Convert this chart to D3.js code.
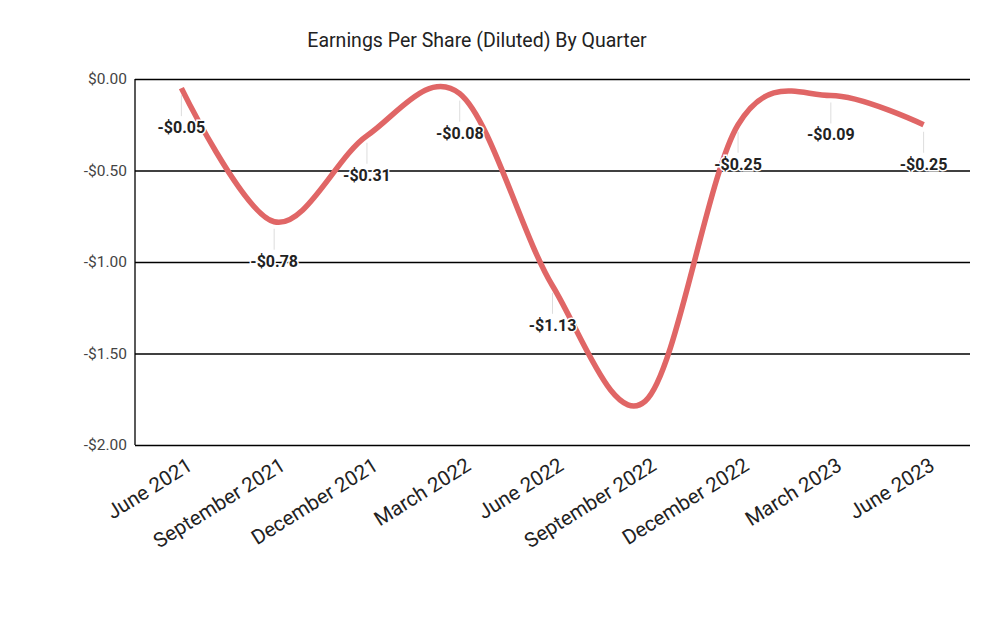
<!DOCTYPE html>
<html>
<head>
<meta charset="utf-8">
<script src="https://cdn.jsdelivr.net/npm/d3@7"></script>
<style>
  body { margin: 0; background: #fff; }
  text { font-family: Roboto, "Noto Sans", sans-serif; }
</style>
</head>
<body>
<div id="chart-area"></div>
<script>
// data
const quarters = ["June 2021", "September 2021", "December 2021", "March 2022", "June 2022",
  "September 2022", "December 2022", "March 2023", "June 2023"]
const eps = [-0.05, -0.78, -0.31, -0.08, -1.13, -1.76, -0.25, -0.09, -0.25]
const showLabel = [true, true, true, true, true, false, true, true, true]
const yTicks = [0, -0.5, -1, -1.5, -2]

const W = 1000, H = 618
const MARGIN = { LEFT: 135, RIGHT: 30, TOP: 79, BOTTOM: 173 }
const WIDTH = W - MARGIN.LEFT - MARGIN.RIGHT
const HEIGHT = H - MARGIN.TOP - MARGIN.BOTTOM

const svg = d3.select("#chart-area").append("svg")
  .attr("width", W)
  .attr("height", H)

// Title
svg.append("text")
  .attr("x", 477)
  .attr("y", 47)
  .attr("text-anchor", "middle")
  .attr("font-size", "19.5px")
  .attr("fill", "#222")
  .text("Earnings Per Share (Diluted) By Quarter")

const g = svg.append("g")
  .attr("transform", `translate(${MARGIN.LEFT}, ${MARGIN.TOP})`)

const x = d3.scalePoint()
  .domain(quarters)
  .range([0, WIDTH])
  .padding(0.5)

const y = d3.scaleLinear()
  .domain([-2, 0])
  .range([HEIGHT, 0])

const fmt = v => (v < 0 ? "-$" : "$") + Math.abs(v).toFixed(2)

// gridlines + y labels
const yAxisCall = d3.axisLeft(y)
  .tickValues(yTicks)
  .tickSize(-WIDTH)
  .tickPadding(8)
  .tickFormat(fmt)
const yAxis = g.append("g").call(yAxisCall)
yAxis.select(".domain").remove()
yAxis.selectAll("line").attr("stroke", "#000").attr("stroke-width", 1.3)
yAxis.selectAll("text")
  .attr("font-size", "15.5px")
  .attr("fill", "#444")
  .attr("font-family", "Roboto, sans-serif")

// left axis line
g.append("line")
  .attr("x1", 0).attr("x2", 0)
  .attr("y1", 0).attr("y2", HEIGHT)
  .attr("stroke", "#000")
  .attr("stroke-width", 1.3)

// x labels
const xAxisCall = d3.axisBottom(x).tickSize(0).tickPadding(0)
const xAxis = g.append("g")
  .attr("transform", `translate(0, ${HEIGHT})`)
  .call(xAxisCall)
xAxis.select(".domain").remove()
xAxis.selectAll("text")
  .attr("text-anchor", "end")
  .attr("font-size", "20.5px")
  .attr("fill", "#222")
  .attr("font-family", "Roboto, sans-serif")
  .attr("dy", 0)
  .attr("y", 0)
  .attr("transform", "translate(12, 24) rotate(-32)")

const data = quarters.map((q, i) => ({ q, v: eps[i], show: showLabel[i] }))

// line
const line = d3.line()
  .x(d => x(d.q))
  .y(d => y(d.v))
  .curve(d3.curveCardinal.tension(0))

g.append("path")
  .datum(data)
  .attr("fill", "none")
  .attr("stroke", "#e06666")
  .attr("stroke-width", 5.5)
  .attr("stroke-linecap", "butt")
  .attr("d", line)

// data labels with leader lines
const lab = g.selectAll(".lab")
  .data(data.filter(d => d.show))
  .enter().append("g")
  .attr("class", "lab")
  .attr("transform", d => `translate(${x(d.q)}, ${y(d.v)})`)

lab.append("line")
  .attr("y1", 7).attr("y2", 28)
  .attr("stroke", "#ddd")
  .attr("stroke-width", 1)

lab.append("text")
  .attr("y", 45)
  .attr("text-anchor", "middle")
  .attr("font-size", "16px")
  .attr("font-weight", "bold")
  .attr("fill", "#222")
  .attr("stroke", "#fff")
  .attr("stroke-width", 3)
  .attr("paint-order", "stroke")
  .text(d => fmt(d.v))
</script>
</body>
</html>
